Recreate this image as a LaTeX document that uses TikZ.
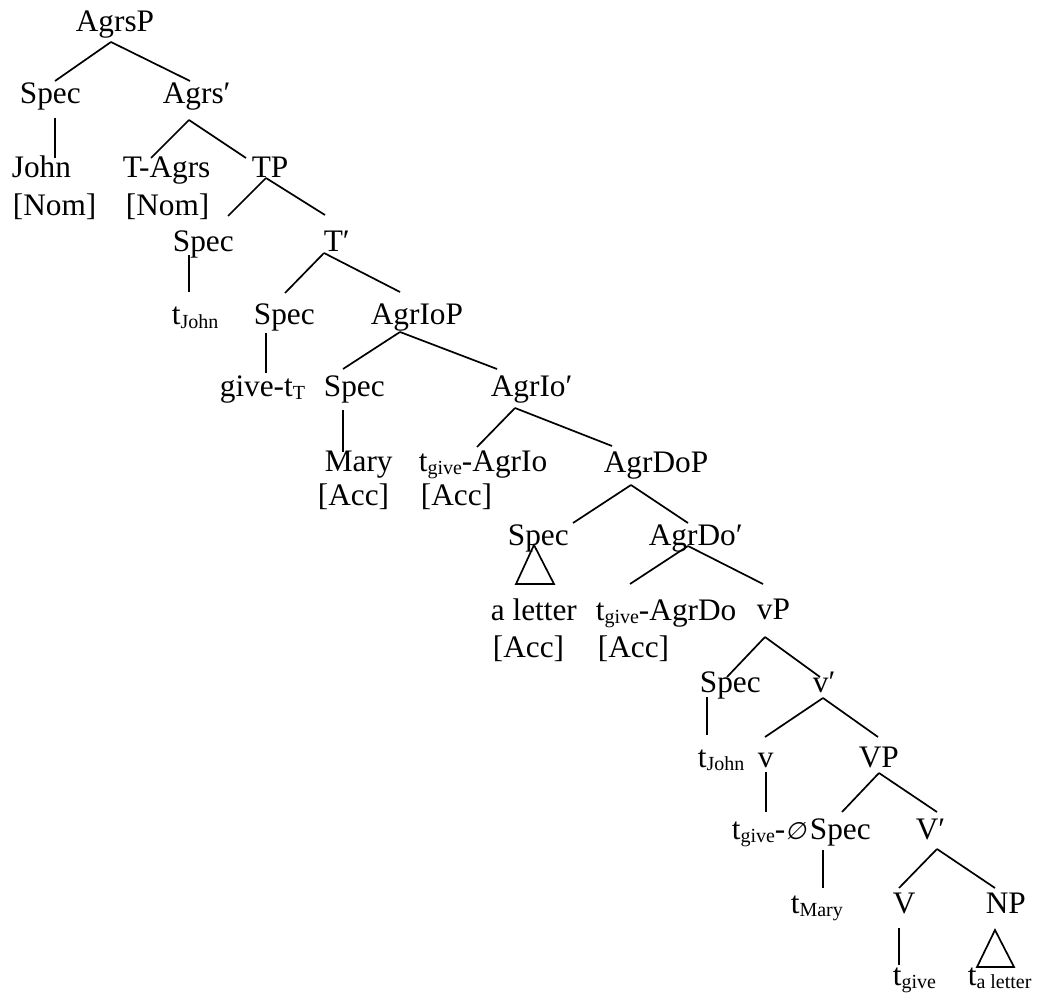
\documentclass[tikz,border=0pt]{standalone}
\usepackage{fontspec}
\setmainfont{Liberation Serif}
\newfontfamily\emptysetfont[FakeSlant=0.2]{DejaVu Sans}
\newcommand{\low}[1]{\raisebox{-3pt}{\fontsize{20}{20}\selectfont #1}}
\tikzset{word/.style={anchor=base west, inner sep=0pt, font=\fontsize{31.3}{36}\selectfont}}
\begin{document}
\begin{tikzpicture}[x=1pt, y=-1pt, line width=1.7pt]
\useasboundingbox (0,0) rectangle (1037,995);
% words of the tree, at left edge / baseline
\node[word] (agrsp) at (75,32) {AgrsP};
\node[word] (spec1) at (19,104) {Spec};
\node[word] (agrsbar) at (162,104) {Agrs′};
\node[word] (john) at (11,178) {John};
\node[word] (nom1) at (12,216) {[Nom]};
\node[word] (tagrs) at (122,178) {T-Agrs};
\node[word] (nom2) at (125,216) {[Nom]};
\node[word] (tp) at (251,178) {TP};
\node[word] (spec2) at (172,252) {Spec};
\node[word] (tbar) at (323,252) {T′};
\node[word] (tjohn1) at (171,325) {t\low{John}};
\node[word] (spec3) at (253,325) {Spec};
\node[word] (agriop) at (370,325) {AgrIoP};
\node[word] (give) at (219,396) {give-t\low{T}};
\node[word] (spec4) at (323,396) {Spec};
\node[word] (agriobar) at (490,396) {AgrIo′};
\node[word] (mary) at (324,471) {Mary};
\node[word] (acc1) at (317,505) {[Acc]};
\node[word] (tgiveio) at (418,471) {t\low{give}-AgrIo};
\node[word] (acc2) at (420,505) {[Acc]};
\node[word] (agrdop) at (603,472) {AgrDoP};
\node[word] (spec5) at (507,545) {Spec};
\node[word] (agrdobar) at (648,545) {AgrDo′};
\node[word] (aletter) at (490,620) {a letter};
\node[word] (acc3) at (492,657) {[Acc]};
\node[word] (tgivedo) at (595,620) {t\low{give}-AgrDo};
\node[word] (acc4) at (597,657) {[Acc]};
\node[word] (vp) at (756,619) {vP};
\node[word] (spec6) at (699,692) {Spec};
\node[word] (vbar) at (812,692) {v′};
\node[word] (tjohn2) at (697,767) {t\low{John}};
\node[word] (v) at (757,767) {v};
\node[word] (vpbig) at (858,767) {VP};
\node[word] (tgivenull) at (731,839) {t\low{give}-{\emptysetfont\fontsize{24}{30}\selectfont ∅}};
\node[word] (spec7) at (809,839) {Spec};
\node[word] (vbarbig) at (915,839) {V′};
\node[word] (tmary) at (790,913) {t\low{Mary}};
\node[word] (vv) at (892,913) {V};
\node[word] (np) at (985,913) {NP};
\node[word] (tgive) at (892,985) {t\low{give}};
\node[word] (taletter) at (967,985) {t\low{a letter}};
% branches
\draw ([shift={(36,10)}]agrsp.base west) -- ([shift={(36,-23)}]spec1.base west);
\draw ([shift={(36,10)}]agrsp.base west) -- ([shift={(28,-23)}]agrsbar.base west);
\draw ([shift={(36,14)}]spec1.base west) -- ([shift={(44,-20)}]john.base west);
\draw ([shift={(27,16)}]agrsbar.base west) -- ([shift={(29,-20)}]tagrs.base west);
\draw ([shift={(27,16)}]agrsbar.base west) -- ([shift={(-5,-20)}]tp.base west);
\draw ([shift={(15,0)}]tp.base west) -- ([shift={(56,-36)}]spec2.base west);
\draw ([shift={(15,0)}]tp.base west) -- ([shift={(2,-37)}]tbar.base west);
\draw ([shift={(17,3)}]spec2.base west) -- ([shift={(18,-33)}]tjohn1.base west);
\draw ([shift={(1,1)}]tbar.base west) -- ([shift={(32,-32)}]spec3.base west);
\draw ([shift={(1,1)}]tbar.base west) -- ([shift={(30,-33)}]agriop.base west);
\draw ([shift={(13,8)}]spec3.base west) -- ([shift={(47,-23)}]give.base west);
\draw ([shift={(30,7)}]agriop.base west) -- ([shift={(20,-27)}]spec4.base west);
\draw ([shift={(30,7)}]agriop.base west) -- ([shift={(7,-27)}]agriobar.base west);
\draw ([shift={(20,14)}]spec4.base west) -- ([shift={(19,-19)}]mary.base west);
\draw ([shift={(25,12)}]agriobar.base west) -- ([shift={(59,-24)}]tgiveio.base west);
\draw ([shift={(25,12)}]agriobar.base west) -- ([shift={(9,-26)}]agrdop.base west);
\draw ([shift={(28,13)}]agrdop.base west) -- ([shift={(66,-22)}]spec5.base west);
\draw ([shift={(28,13)}]agrdop.base west) -- ([shift={(40,-22)}]agrdobar.base west);
\draw ([shift={(27,0)}]spec5.base west) -- ++(-18,39) -- ++(38,0) -- cycle;
\draw ([shift={(40,1)}]agrdobar.base west) -- ([shift={(35,-36)}]tgivedo.base west);
\draw ([shift={(40,1)}]agrdobar.base west) -- ([shift={(7,-35)}]vp.base west);
\draw ([shift={(9,18)}]vp.base west) -- ([shift={(28,-15)}]spec6.base west);
\draw ([shift={(9,18)}]vp.base west) -- ([shift={(8,-15)}]vbar.base west);
\draw ([shift={(8,5)}]spec6.base west) -- ([shift={(10,-32)}]tjohn2.base west);
\draw ([shift={(11,6)}]vbar.base west) -- ([shift={(8,-30)}]v.base west);
\draw ([shift={(11,6)}]vbar.base west) -- ([shift={(20,-30)}]vpbig.base west);
\draw ([shift={(9,5)}]v.base west) -- ([shift={(35,-27)}]tgivenull.base west);
\draw ([shift={(21,6)}]vpbig.base west) -- ([shift={(33,-27)}]spec7.base west);
\draw ([shift={(21,6)}]vpbig.base west) -- ([shift={(22,-27)}]vbarbig.base west);
\draw ([shift={(14,11)}]spec7.base west) -- ([shift={(33,-25)}]tmary.base west);
\draw ([shift={(22,10)}]vbarbig.base west) -- ([shift={(7,-25)}]vv.base west);
\draw ([shift={(22,10)}]vbarbig.base west) -- ([shift={(10,-25)}]np.base west);
\draw ([shift={(7,15)}]vv.base west) -- ([shift={(7,-20)}]tgive.base west);
\draw ([shift={(10,17)}]np.base west) -- ++(-18,37) -- ++(37,0) -- cycle;
\end{tikzpicture}
\end{document}
